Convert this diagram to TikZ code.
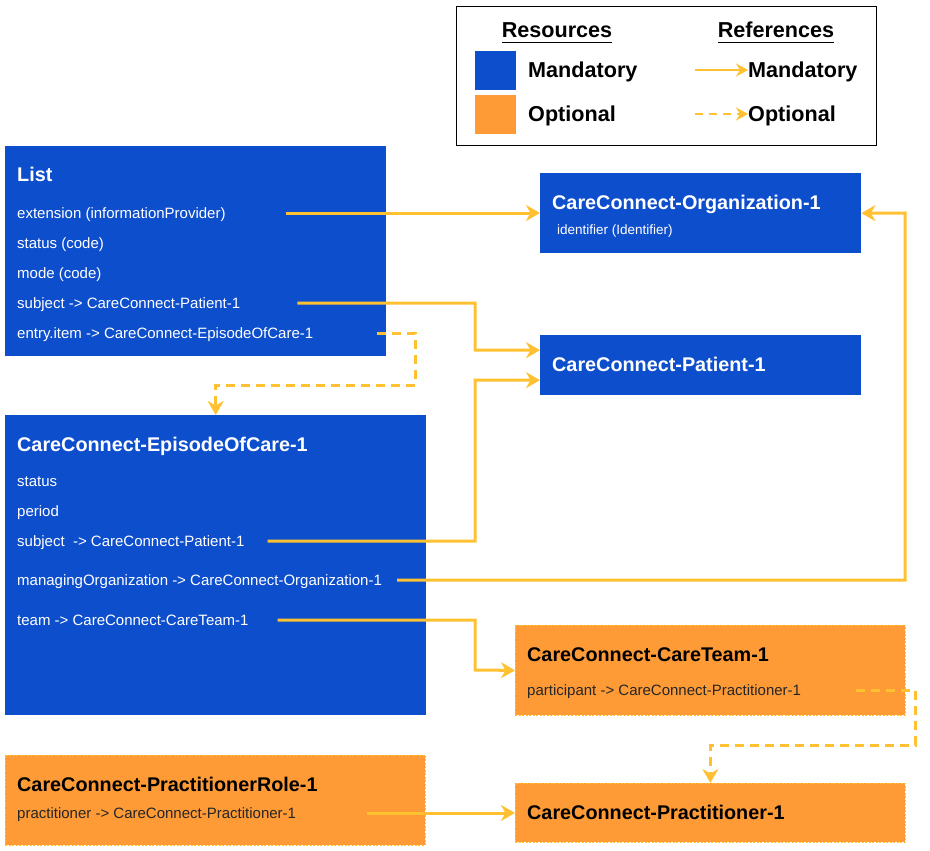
\documentclass[tikz,border=0pt]{standalone}
\usepackage{fontspec}
\setmainfont{Liberation Sans}
\usetikzlibrary{arrows.meta}
\definecolor{resblue}{RGB}{13,78,204}
\definecolor{resorange}{RGB}{255,155,54}
\definecolor{refyellow}{RGB}{255,192,50}
\tikzset{
  mandbox/.style={fill=resblue, anchor=north west, inner sep=0pt},
  optbox/.style={fill=resorange, draw=refyellow, dash pattern=on 2pt off 1.5pt, line width=0.8pt, anchor=north west, inner sep=0pt},
  boxtitle/.style={anchor=west, inner sep=0pt, text height=14.3pt, text depth=0pt, font=\fontsize{19.8}{22}\selectfont\bfseries},
  boxrow/.style={anchor=west, inner sep=0pt, text height=10.8pt, text depth=0pt, font=\fontsize{15}{17}\selectfont},
  legendtext/.style={anchor=west, inner sep=0pt, text height=15.5pt, text depth=0pt, font=\fontsize{21.6}{24}\selectfont\bfseries},
  mandref/.style={draw=refyellow, line width=3pt, -{Stealth[length=14pt,width=16pt,inset=4.5pt]}},
  optref/.style={mandref, dash pattern=on 9pt off 6pt},
  keyref/.style={draw=refyellow, line width=2.6pt, -{Stealth[length=12pt,width=13pt,inset=4pt]}},
}
\begin{document}
\begin{tikzpicture}[x=1pt, y=-1pt]
  \useasboundingbox (0,0) rectangle (930,851);

  %%%%% LEGEND %%%%%
  \node[draw=black, line width=1pt, anchor=north west, minimum width=420pt, minimum height=139pt, inner sep=0pt] (legend) at (456,6) {};
  \node[legendtext, anchor=center] (resHead) at (557,30) {Resources};
  \node[legendtext, anchor=center] (refHead) at (776,30) {References};
  \draw[line width=1.8pt] ([yshift=-4.5pt]resHead.south west) -- ([yshift=-4.5pt]resHead.south east);
  \draw[line width=1.8pt] ([yshift=-4.5pt]refHead.south west) -- ([yshift=-4.5pt]refHead.south east);

  \node[mandbox, minimum width=41pt, minimum height=39pt] (keyBlue) at (475,51) {};
  \node[fill=resorange, anchor=north west, inner sep=0pt, minimum width=41pt, minimum height=39pt] (keyOrange) at (475,95) {};
  \node[legendtext] (keyBlueText) at (528,70) {Mandatory};
  \node[legendtext] (keyOrangeText) at (528,114) {Optional};

  \coordinate (keyMandStart) at (695,70);
  \coordinate (keyOptStart) at (695,114);
  \node[legendtext] (keyMandRef) at (748,70) {Mandatory};
  \node[legendtext] (keyOptRef) at (748,114) {Optional};
  \draw[keyref] (keyMandStart) -- (keyMandRef.west);
  \draw[keyref, dash pattern=on 8pt off 6pt] (keyOptStart) -- (keyOptRef.west);

  %%%%% LIST %%%%%
  \node[mandbox, minimum width=381pt, minimum height=210pt] (list) at (5,146) {};
  \node[boxtitle, text=white] (listTitle) at (17,174) {List};
  \node[boxrow, text=white] (listExt) at (17,213) {extension (informationProvider)};
  \node[boxrow, text=white] (listStatus) at (17,243) {status (code)};
  \node[boxrow, text=white] (listMode) at (17,273) {mode (code)};
  \node[boxrow, text=white] (listSubj) at (17,303) {subject -> CareConnect-Patient-1};
  \node[boxrow, text=white] (listEntry) at (17,333) {entry.item -> CareConnect-EpisodeOfCare-1};

  %%%%% ORGANIZATION, PATIENT %%%%%
  \node[mandbox, minimum width=321pt, minimum height=80pt] (org) at (540,173) {};
  \node[boxtitle, text=white] (orgTitle) at (552,202) {CareConnect-Organization-1};
  \node[boxrow, text=white, text height=9.7pt, font=\fontsize{13.5}{16}\selectfont] (orgId) at (557,230) {identifier (Identifier)};

  \node[mandbox, minimum width=321pt, minimum height=60pt] (pat) at (540,335) {};
  \node[boxtitle, text=white] (patTitle) at (552,364) {CareConnect-Patient-1};

  %%%%% EPISODE OF CARE %%%%%
  \node[mandbox, minimum width=421pt, minimum height=300pt] (eoc) at (5,415) {};
  \node[boxtitle, text=white] (eocTitle) at (17,444) {CareConnect-EpisodeOfCare-1};
  \node[boxrow, text=white] (eocStatus) at (17,481) {status};
  \node[boxrow, text=white] (eocPeriod) at (17,511) {period};
  \node[boxrow, text=white] (eocSubj) at (17,541) {subject~ -> CareConnect-Patient-1};
  \node[boxrow, text=white] (eocOrg) at (17,580) {managingOrganization -> CareConnect-Organization-1};
  \node[boxrow, text=white] (eocTeam) at (17,620) {team -> CareConnect-CareTeam-1};

  %%%%% OPTIONAL RESOURCES %%%%%
  \node[optbox, minimum width=390pt, minimum height=90pt] (team) at (515,625) {};
  \node[boxtitle] (teamTitle) at (527,654) {CareConnect-CareTeam-1};
  \node[boxrow, text=black!85] (teamPart) at (527,690) {participant -> CareConnect-Practitioner-1};

  \node[optbox, minimum width=390pt, minimum height=59pt] (prac) at (515,783) {};
  \node[boxtitle] (pracTitle) at (527,812) {CareConnect-Practitioner-1};

  \node[optbox, minimum width=420pt, minimum height=90pt] (role) at (5,755) {};
  \node[boxtitle] (roleTitle) at (17,784) {CareConnect-PractitionerRole-1};
  \node[boxrow, text=black!85] (rolePrac) at (17,813) {practitioner -> CareConnect-Practitioner-1};

  %%%%% REFERENCES %%%%%
  \draw[mandref] ([xshift=60pt]listExt.east) -- (listExt -| org.west);
  \draw[mandref] ([xshift=57pt]listSubj.east) -| (475,350) -- ([yshift=15pt]pat.west);
  \draw[optref] ([xshift=64pt]listEntry.east) -| (415,385) -| (eoc.north);
  \draw[mandref] ([xshift=23pt]eocSubj.east) -| (475,380) -- ([yshift=-15pt]pat.west);
  \draw[mandref] ([xshift=15pt]eocOrg.east) -| (905,213) -- (org.east);
  \draw[mandref] ([xshift=29pt]eocTeam.east) -| (475,670) -- (team.west);
  \draw[optref] ([xshift=55pt]teamPart.east) -| (915,745) -| (prac.north);
  \draw[mandref] ([xshift=71pt]rolePrac.east) -- (rolePrac -| prac.west);
\end{tikzpicture}
\end{document}
